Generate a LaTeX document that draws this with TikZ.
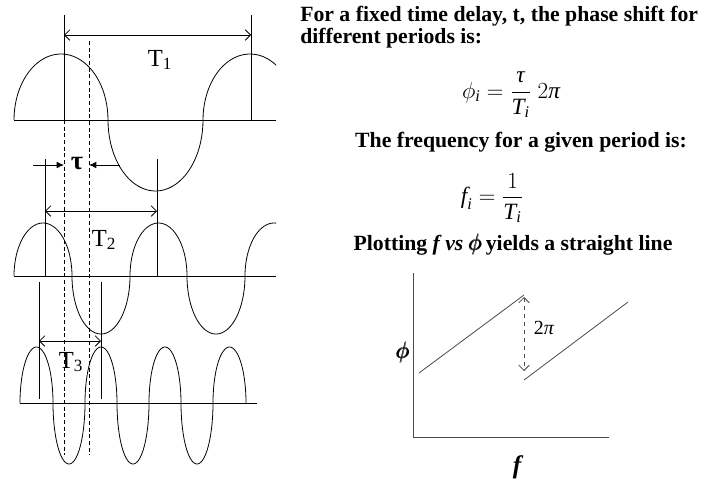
\documentclass[tikz,border=0pt]{standalone}
\usepackage{amsmath}
\usepackage{fontspec}
\setmainfont{Liberation Serif}
\usetikzlibrary{arrows.meta,positioning}
\definecolor{plotGray}{HTML}{4A4A4A}
\tikzset{
  wave/.style={black,line width=0.6pt},
  marker/.style={black,line width=0.6pt},
  guide/.style={black,line width=0.5pt,dash pattern=on 3pt off 2pt},
  period/.style={{Straight Barb[length=4pt,width=8pt]}-{Straight Barb[length=4pt,width=8pt]},line width=0.6pt},
  delay/.style={-{Latex[length=5.5pt,width=5pt]},line width=0.6pt},
  note/.style={font=\fontsize{16.3}{16.5}\selectfont\bfseries,inner sep=0pt},
  eqn/.style={font=\fontsize{17.5}{20}\selectfont,inner sep=0pt},
  tlabel/.style={font=\fontsize{18.4}{20}\selectfont,inner sep=0pt},
  plotline/.style={plotGray,line width=0.6pt}
}

\begin{document}
\begin{tikzpicture}[x=0.75pt,y=-0.75pt]
  \useasboundingbox (0,0) rectangle (703,482);

  % the three waves, built from half ellipses
  \begin{scope}
    \clip (10,0) rectangle (276,482);
    \foreach \xa/\xb/\h in {14/108/66,108/203/-71,203/297/66}
      \draw[wave] plot[domain=0:180,samples=40,variable=\t] ({\xa+(\xb-\xa)/2*(1-cos(\t))},{120-\h*sin(\t)});
    \foreach \xa/\xb/\h in {14/72/53,72/130/-58,130/187/53,187/245/-58,245/303/53}
      \draw[wave] plot[domain=0:180,samples=40,variable=\t] ({\xa+(\xb-\xa)/2*(1-cos(\t))},{276-\h*sin(\t)});
  \end{scope}
  \foreach \xa/\xb/\h in {20/53/56,53/85/-61,85/117/56,117/149/-61,149/181/56,181/213/-61,213/246/56}
    \draw[wave] plot[domain=0:180,samples=30,variable=\t] ({\xa+(\xb-\xa)/2*(1-cos(\t))},{403-\h*sin(\t)});

  % axes of the waves
  \coordinate (axA0) at (14,120);  \coordinate (axA1) at (276,120);
  \coordinate (axB0) at (14,276);  \coordinate (axB1) at (276,276);
  \coordinate (axC0) at (20,403);  \coordinate (axC1) at (257,403);
  \draw[marker] (axA0) -- (axA1);
  \draw[marker] (axB0) -- (axB1);
  \draw[marker] (axC0) -- (axC1);

  % period markers
  \coordinate (pA0) at (64,15);   \coordinate (qA0) at (64,120);
  \coordinate (pA1) at (251,15);  \coordinate (qA1) at (251,120);
  \coordinate (pB0) at (45,159);  \coordinate (qB0) at (45,276);
  \coordinate (pB1) at (157,159); \coordinate (qB1) at (157,276);
  \coordinate (pC0) at (39,282);  \coordinate (qC0) at (39,399);
  \coordinate (pC1) at (101,282); \coordinate (qC1) at (101,399);
  \draw[marker] (pA0) -- (qA0);
  \draw[marker] (pA1) -- (qA1);
  \draw[marker] (pB0) -- (qB0);
  \draw[marker] (pB1) -- (qB1);
  \draw[marker] (pC0) -- (qC0);
  \draw[marker] (pC1) -- (qC1);
  \draw[period] (pA0 |- 0,35) -- (pA1 |- 0,35);
  \draw[period] (pB0 |- 0,211) -- (pB1 |- 0,211);
  \draw[period] (pC0 |- 0,341) -- (pC1 |- 0,341);
  \node (lblT1) [tlabel] at (160,60) {T\textsubscript{1}};
  \node (lblT2) [tlabel] at (104,240) {T\textsubscript{2}};
  \node (lblT3) [tlabel] at (71,362) {T\textsubscript{3}};

  % time delay
  \coordinate (dL0) at (64,120);  \coordinate (dL1) at (64,455);
  \coordinate (dR0) at (89,41);   \coordinate (dR1) at (89,455);
  \draw[guide] (dL0) -- (dL1);
  \draw[guide] (dR0) -- (dR1);
  \coordinate (tauL) at (33,165); \coordinate (tauR) at (120,165);
  \draw[delay] (tauL) -- (dL0 |- tauL);
  \draw[delay] (tauR) -- (dR0 |- tauR);
  \node (lblTau) [font=\fontsize{20}{22}\selectfont\bfseries,inner sep=0pt] at (77,164) {τ};

  % text on the right
  \node (title1) [note,anchor=base west] at (300,21) {For a fixed time delay, t, the phase shift for};
  \node (title2) [note,anchor=base west] at (300,43) {different periods is:};
  \node (phaseEq) [eqn] at (511,95) {$\phi_{\textit{i}} = \dfrac{\textit{τ}}{\textit{T}_{\textit{i}}}\;2\textit{π}$};
  \node (freqTxt) [note,anchor=base] at (521,147) {The frequency for a given period is:};
  \node (freqEq) [eqn] at (492,198) {$\textit{f}_{\textit{i}} = \dfrac{1}{\textit{T}_{\textit{i}}}$};
  \node (plotTxt) [note,anchor=base] at (513,250) {Plotting \textit{f vs} $\pmb{\phi}$\,yields a straight line};

  % the f-phi plot
  \coordinate (yTop) at (413,273);
  \coordinate (xEnd) at (609,437);
  \draw[plotline] (yTop) |- (xEnd);
  \coordinate (lnA0) at (419,373); \coordinate (lnA1) at (524,295);
  \coordinate (lnB0) at (524,380); \coordinate (lnB1) at (628,302);
  \draw[plotline] (lnA0) -- (lnA1);
  \draw[plotline] (lnB0) -- (lnB1);
  \draw[plotline,dashed,{Straight Barb[length=4pt,width=8pt]}-{Straight Barb[length=4pt,width=8pt]}] (lnA1) ++(0,2) -- (524,371);
  \node (lbl2pi) [font=\fontsize{15}{17}\selectfont,inner sep=0pt] at (544,328) {2\textit{π}};
  \node (lblPhi) [font=\fontsize{19}{21}\selectfont,inner sep=0pt] at (403,352) {$\pmb{\phi}$};
  \node (lblF) [font=\fontsize{19}{21}\selectfont\bfseries\itshape,inner sep=0pt] at (517,467) {f};
\end{tikzpicture}
\end{document}
